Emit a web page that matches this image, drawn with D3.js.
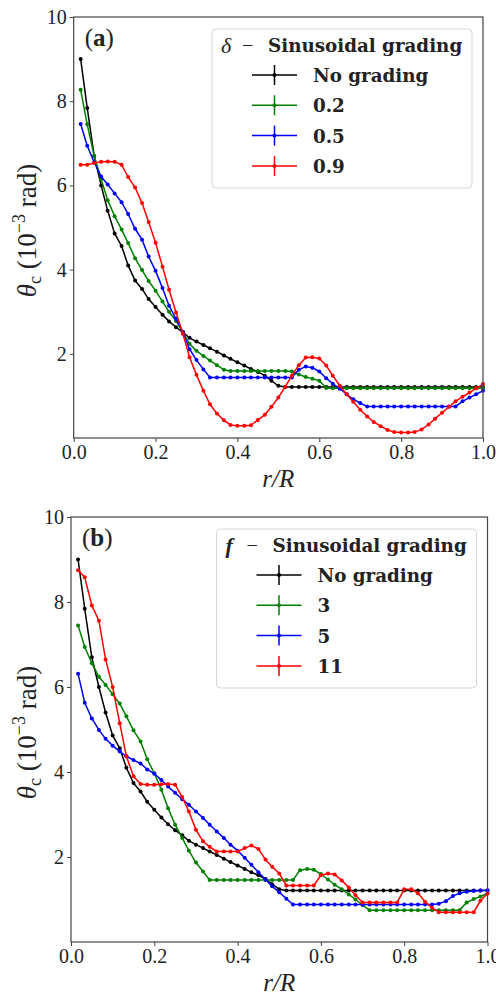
<!DOCTYPE html>
<html>
<head>
<meta charset="utf-8">
<script src="https://cdn.jsdelivr.net/npm/d3@7/dist/d3.min.js"></script>
<style>
    body { margin: 0; background: #fff; }
    svg text { font-family: "Liberation Serif", serif; fill: #222; }
</style>
</head>
<body>
<svg id="chart" width="496" height="999"></svg>
<script>
// r/R sample points (60 per curve)
const rValues = [0.017,0.033,0.050,0.067,0.083,0.100,0.117,0.133,0.150,0.167,
    0.183,0.200,0.217,0.233,0.250,0.267,0.283,0.300,0.317,0.333,
    0.350,0.367,0.383,0.400,0.417,0.433,0.450,0.467,0.483,0.500,
    0.517,0.533,0.550,0.567,0.583,0.600,0.617,0.633,0.650,0.667,
    0.683,0.700,0.717,0.733,0.750,0.767,0.783,0.800,0.817,0.833,
    0.850,0.867,0.883,0.900,0.917,0.933,0.950,0.967,0.983,1.000];

// no grading (same in both panels)
const noGrading = [9.00,7.84,6.70,6.00,5.40,4.86,4.56,4.10,3.74,3.54,
    3.30,3.11,2.93,2.77,2.63,2.51,2.38,2.29,2.21,2.13,
    2.05,1.96,1.88,1.80,1.72,1.64,1.57,1.48,1.36,1.24,
    1.21,1.21,1.21,1.21,1.21,1.21,1.21,1.21,1.21,1.21,
    1.21,1.21,1.21,1.21,1.21,1.21,1.21,1.21,1.21,1.21,
    1.21,1.21,1.21,1.21,1.21,1.21,1.21,1.21,1.21,1.21];

// (a) delta
const delta02 = [8.27,7.45,6.70,6.15,5.65,5.27,4.95,4.63,4.27,3.99,
    3.73,3.50,3.24,3.00,2.78,2.51,2.24,2.07,1.95,1.84,
    1.73,1.62,1.59,1.59,1.59,1.59,1.59,1.59,1.59,1.59,
    1.59,1.58,1.51,1.45,1.41,1.36,1.19,1.18,1.18,1.18,
    1.18,1.18,1.18,1.18,1.18,1.18,1.18,1.18,1.18,1.18,
    1.18,1.18,1.18,1.18,1.18,1.18,1.18,1.18,1.18,1.18];
const delta05 = [7.46,6.94,6.55,6.21,6.02,5.81,5.60,5.32,4.97,4.71,
    4.31,3.97,3.56,3.14,2.83,2.51,2.11,1.85,1.63,1.44,
    1.44,1.44,1.44,1.44,1.44,1.44,1.44,1.44,1.44,1.44,
    1.44,1.44,1.62,1.70,1.67,1.58,1.42,1.29,1.17,1.04,
    0.92,0.83,0.75,0.75,0.75,0.75,0.75,0.75,0.75,0.75,
    0.75,0.75,0.75,0.75,0.75,0.75,0.87,0.96,1.04,1.12];
const delta09 = [6.49,6.49,6.53,6.56,6.57,6.56,6.49,6.20,5.95,5.58,
    5.13,4.64,4.07,3.52,2.98,2.47,1.92,1.50,1.12,0.80,
    0.58,0.42,0.31,0.29,0.29,0.30,0.43,0.55,0.74,0.96,
    1.22,1.48,1.73,1.91,1.92,1.89,1.72,1.48,1.24,1.04,
    0.86,0.67,0.51,0.38,0.28,0.19,0.14,0.13,0.13,0.14,
    0.20,0.32,0.46,0.60,0.74,0.87,0.98,1.08,1.18,1.28];

// (b) f
const freq3 = [7.45,6.94,6.56,6.24,6.05,5.83,5.61,5.31,4.98,4.72,
    4.30,3.97,3.58,3.15,2.76,2.45,2.15,1.87,1.66,1.46,
    1.46,1.46,1.46,1.46,1.46,1.46,1.46,1.46,1.46,1.46,
    1.46,1.46,1.69,1.72,1.70,1.60,1.47,1.35,1.24,1.12,
    1.00,0.87,0.75,0.75,0.75,0.75,0.75,0.75,0.75,0.75,
    0.75,0.75,0.75,0.75,0.75,0.75,0.93,1.01,1.07,1.14];
const freq5 = [6.31,5.63,5.26,4.99,4.78,4.62,4.48,4.37,4.28,4.20,
    4.06,3.96,3.81,3.66,3.51,3.36,3.23,3.07,2.92,2.76,
    2.60,2.45,2.29,2.15,1.98,1.82,1.64,1.47,1.31,1.17,
    1.02,0.88,0.88,0.88,0.88,0.88,0.88,0.88,0.88,0.88,
    0.88,0.88,0.88,0.88,0.88,0.88,0.88,0.88,0.88,0.88,
    0.88,0.88,0.90,0.96,1.08,1.15,1.18,1.20,1.21,1.22];
const freq11 = [8.75,8.58,7.92,7.56,6.65,6.00,5.15,4.37,3.90,3.72,
    3.70,3.70,3.71,3.72,3.70,3.41,3.07,2.64,2.37,2.24,
    2.13,2.13,2.13,2.13,2.21,2.27,2.19,1.94,1.77,1.61,
    1.33,1.33,1.33,1.33,1.33,1.57,1.61,1.59,1.45,1.28,
    1.10,0.93,0.93,0.93,0.93,0.93,0.93,1.24,1.24,1.15,
    0.95,0.80,0.70,0.70,0.70,0.70,0.70,0.70,0.97,1.14];

const xTicks = [0, 0.2, 0.4, 0.6, 0.8, 1.0];
const yTicks = [2, 4, 6, 8, 10];
const colors = ['black', 'green', 'blue', 'red'];
const labelsA = ['No grading', '0.2', '0.5', '0.9'];
const labelsB = ['No grading', '3', '5', '11'];

window.onload = function() {
    drawPanel({
        left: 73.7, right: 483, top: 17, bottom: 438,
        letter: 'a', symbol: 'δ', symbolBold: false,
        series: [noGrading, delta02, delta05, delta09],
        labels: labelsA
    });
    drawPanel({
        left: 71, right: 487.5, top: 517, bottom: 942,
        letter: 'b', symbol: 'f', symbolBold: true,
        series: [noGrading, freq3, freq5, freq11],
        labels: labelsB
    });
}

function drawPanel (p) {
    const svg = d3.select('#chart');
    const x = d3.scaleLinear().domain([0, 1]).range([p.left, p.right]);
    const y = d3.scaleLinear().domain([0, 10]).range([p.bottom, p.top]);
    const g = svg.append('g');

    //curves
    p.series.forEach(function(vals, k) {
        const pts = vals.map((v, i) => [rValues[i], v]);
        g.append('path')
            .datum(pts)
            .attr('fill', 'none')
            .attr('stroke', colors[k])
            .attr('stroke-width', 1.5)
            .attr('d', d3.line().x(d => x(d[0])).y(d => y(d[1])));
        g.selectAll(null)
            .data(pts)
            .enter()
            .append('circle')
            .attr('cx', d => x(d[0]))
            .attr('cy', d => y(d[1]))
            .attr('r', 2)
            .attr('fill', colors[k]);
    });

    //axes
    const xAxis = d3.axisBottom(x).tickValues(xTicks).tickFormat(d3.format('.1f'))
        .tickSize(4).tickPadding(3);
    const yAxis = d3.axisLeft(y).tickValues(yTicks).tickFormat(d3.format('d'))
        .tickSize(4).tickPadding(3);
    const gx = g.append('g')
        .attr('transform', `translate(0,${p.bottom})`)
        .call(xAxis);
    const gy = g.append('g')
        .attr('transform', `translate(${p.left},0)`)
        .call(yAxis);
    [gx, gy].forEach(function(a) {
        a.select('.domain').remove();
        a.selectAll('line').attr('stroke', '#444');
        a.selectAll('text')
            .attr('fill', '#222')
            .style('font-family', '"Liberation Serif", serif')
            .style('font-size', '20px');
    });

    //frame
    g.append('rect')
        .attr('x', p.left)
        .attr('y', p.top)
        .attr('width', p.right - p.left)
        .attr('height', p.bottom - p.top)
        .attr('fill', 'none')
        .attr('stroke', '#444')
        .attr('stroke-width', 1.2);

    //axis labels
    g.append('text')
        .attr('x', (p.left + p.right) / 2)
        .attr('y', p.bottom + 49)
        .attr('text-anchor', 'middle')
        .style('font-size', '25px')
        .style('font-style', 'italic')
        .text('r/R');
    const yl = g.append('text')
        .attr('transform', `translate(36,${(p.top + p.bottom) / 2 + 3}) rotate(-90)`)
        .attr('text-anchor', 'middle')
        .style('font-size', '27px');
    yl.append('tspan').style('font-style', 'italic').text('θ');
    yl.append('tspan').attr('dy', 5).style('font-size', '18px').text('c');
    yl.append('tspan').attr('dy', -5).text(' (10');
    yl.append('tspan').attr('dy', -11).style('font-size', '18px').text('−3');
    yl.append('tspan').attr('dy', 11).text(' rad)');

    //panel letter
    const pl = g.append('text')
        .attr('x', p.left + 11)
        .attr('y', p.top + 29)
        .style('font-size', '25px');
    pl.append('tspan').text('(');
    pl.append('tspan').style('font-weight', 'bold').text(p.letter);
    pl.append('tspan').text(')');

    //legend
    const bx = p.right - 11 - 260;
    const by = p.top + 12;
    g.append('rect')
        .attr('x', bx)
        .attr('y', by)
        .attr('width', 260)
        .attr('height', 159)
        .attr('rx', 4)
        .attr('fill', 'white')
        .attr('fill-opacity', 0.8)
        .attr('stroke', '#d6d6d6');
    g.append('text')
        .attr('x', bx + 9)
        .attr('y', by + 24)
        .style('font-size', '22px')
        .style('font-style', 'italic')
        .style('font-weight', p.symbolBold ? 'bold' : 'normal')
        .text(p.symbol);
    g.append('text')
        .attr('x', bx + 30)
        .attr('y', by + 23)
        .style('font-size', '20px')
        .text('−');
    g.append('text')
        .attr('x', bx + 56)
        .attr('y', by + 23)
        .style('font-family', '"DejaVu Serif", serif')
        .style('font-weight', 'bold')
        .style('font-size', '18.3px')
        .text('Sinusoidal grading');
    p.labels.forEach(function(lab, k) {
        const ly = by + 46 + 30.3 * k;
        g.append('line')
            .attr('x1', bx + 40)
            .attr('x2', bx + 85)
            .attr('y1', ly)
            .attr('y2', ly)
            .attr('stroke', colors[k])
            .attr('stroke-width', 1.5);
        g.append('line')
            .attr('x1', bx + 62.5)
            .attr('x2', bx + 62.5)
            .attr('y1', ly - 10)
            .attr('y2', ly + 10)
            .attr('stroke', colors[k])
            .attr('stroke-width', 1.5);
        g.append('circle')
            .attr('cx', bx + 62.5)
            .attr('cy', ly)
            .attr('r', 2)
            .attr('fill', colors[k]);
        g.append('text')
            .attr('x', bx + 101)
            .attr('y', ly + 7)
            .style('font-family', '"DejaVu Serif", serif')
            .style('font-weight', 'bold')
            .style('font-size', '18.3px')
            .text(lab);
    });
}
</script>
</body>
</html>
